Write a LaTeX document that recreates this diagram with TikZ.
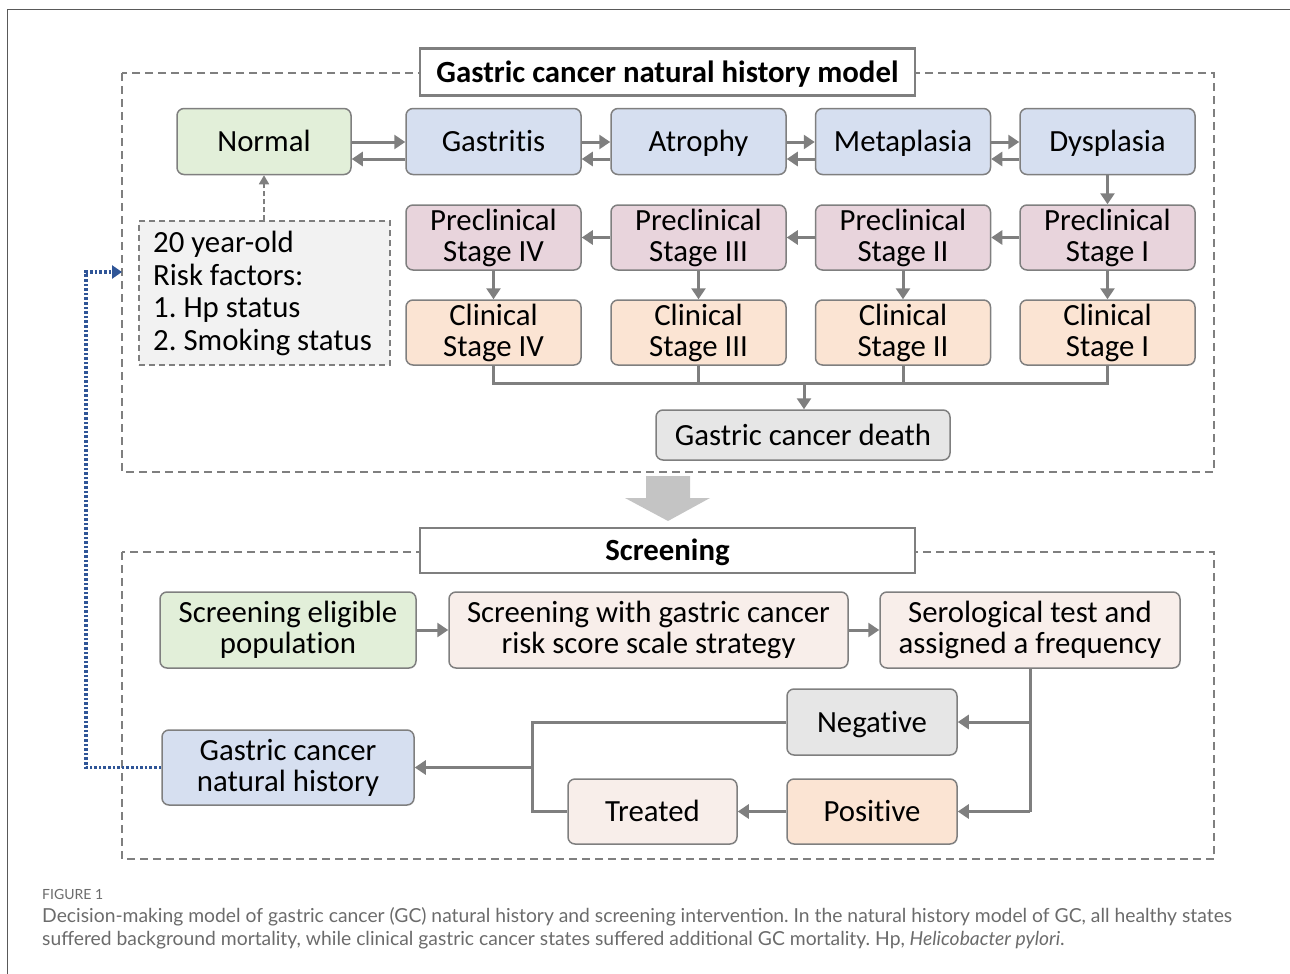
\documentclass[tikz,border=0pt]{standalone}
\usepackage{fontspec}
\setmainfont{Carlito}[Ligatures=NoCommon]
\newfontfamily\capfont{Lato}
\usetikzlibrary{arrows.meta,calc}
\definecolor{bline}{HTML}{7F7F7F}
\definecolor{cgreen}{HTML}{E2EFD9}
\definecolor{cblue}{HTML}{D6DFF0}
\definecolor{cpink}{HTML}{E8D4DC}
\definecolor{cpeach}{HTML}{FBE4D3}
\definecolor{cgray}{HTML}{E6E6E6}
\definecolor{clight}{HTML}{F8EEEA}
\definecolor{crisk}{HTML}{F2F2F2}
\definecolor{cdot}{HTML}{2F5597}
\definecolor{cbig}{HTML}{C4C4C4}
\definecolor{ccap}{HTML}{6B6B6B}
\frenchspacing
\begin{document}
\begin{tikzpicture}[x=1pt,y=-1pt,
  box/.style={draw=bline, line width=1.5pt, rounded corners=7pt, align=center,
    inner sep=0pt, font=\fontsize{30.8}{31}\selectfont},
  sl/.style={text height=23pt, text depth=3pt},
  titlebox/.style={draw=bline, line width=2.4pt, fill=white, inner sep=0pt,
    text height=23pt, text depth=3pt,
    font=\fontsize{30.8}{31}\selectfont\bfseries},
  frame/.style={draw=bline, line width=1.9pt, dash pattern=on 8pt off 5pt},
  arr/.style={draw=bline, line width=3pt, -{Triangle[length=11pt,width=14pt]}},
  ln/.style={draw=bline, line width=3pt},
]
\useasboundingbox (0,0) rectangle (1290,974);
% outer figure frame
\draw[draw=black!65, line width=1pt] (7,974) -- (7,10) -- (1290,10);

% ---------- natural history model ----------
\draw[frame] (122,73) rectangle (1214,472);
\node[titlebox, minimum width=495pt, minimum height=47pt] (t1) at (667.5,72) {Gastric cancer natural history model};

\node[box, sl, fill=cgreen, minimum width=174pt, minimum height=66pt] (normal) at (264,141.5) {Normal};
\node[box, sl, fill=cblue, minimum width=175pt, minimum height=66pt] (gas) at (493.5,141.5) {Gastritis};
\node[box, sl, fill=cblue, minimum width=175pt, minimum height=66pt] (atr) at (698.5,141.5) {Atrophy};
\node[box, sl, fill=cblue, minimum width=175pt, minimum height=66pt] (met) at (903,141.5) {Metaplasia};
\node[box, sl, fill=cblue, minimum width=175pt, minimum height=66pt] (dys) at (1107.5,141.5) {Dysplasia};

\node[box, fill=cpink, minimum width=175pt, minimum height=65pt] (p4) at (493.5,237.5) {Preclinical\\Stage IV};
\node[box, fill=cpink, minimum width=175pt, minimum height=65pt] (p3) at (698.5,237.5) {Preclinical\\Stage III};
\node[box, fill=cpink, minimum width=175pt, minimum height=65pt] (p2) at (903,237.5) {Preclinical\\Stage II};
\node[box, fill=cpink, minimum width=175pt, minimum height=65pt] (p1) at (1107.5,237.5) {Preclinical\\Stage I};

\node[box, fill=cpeach, minimum width=175pt, minimum height=65pt] (c4) at (493.5,332.5) {Clinical\\Stage IV};
\node[box, fill=cpeach, minimum width=175pt, minimum height=65pt] (c3) at (698.5,332.5) {Clinical\\Stage III};
\node[box, fill=cpeach, minimum width=175pt, minimum height=65pt] (c2) at (903,332.5) {Clinical\\Stage II};
\node[box, fill=cpeach, minimum width=175pt, minimum height=65pt] (c1) at (1107.5,332.5) {Clinical\\Stage I};

\node[box, sl, fill=cgray, minimum width=294pt, minimum height=50pt] (death) at (803,435) {Gastric cancer death};

\node[draw=bline, fill=crisk, line width=1.4pt, dash pattern=on 6pt off 4pt,
  minimum width=251pt, minimum height=144pt, inner sep=0pt] (risk) at (264.5,293) {};
\node[anchor=north west, align=left, inner sep=0pt, font=\fontsize{30.8}{32.7}\selectfont] (risktxt) at (153,231)
  {20 year-old\\Risk factors:\\1. Hp status\\2. Smoking status};

% bidirectional arrows
\foreach \a/\b in {normal/gas, gas/atr, atr/met, met/dys}{
  \draw[arr] (\a.east |- 0,142) -- (\b.west |- 0,142);
  \draw[arr] (\b.west |- 0,159) -- (\a.east |- 0,159);
}
\draw[arr] (dys.south) -- (p1.north);
\draw[arr] (p1.west) -- (p2.east);
\draw[arr] (p2.west) -- (p3.east);
\draw[arr] (p3.west) -- (p4.east);
\foreach \p/\c in {p1/c1, p2/c2, p3/c3, p4/c4}{
  \draw[arr] (\p.south) -- (\c.north);
}
\coordinate (bus) at (804,383);
\draw[ln] (c4.south) -- (c4.south |- bus) -- (c1.south |- bus) -- (c1.south);
\draw[ln] (c3.south) -- (c3.south |- bus);
\draw[ln] (c2.south) -- (c2.south |- bus);
\draw[arr] (bus) -- (bus |- death.north);
\draw[draw=bline, line width=1.7pt, dash pattern=on 5pt off 3pt, -{Triangle[length=9pt,width=10pt]}]
  (normal.south |- risk.north) -- (normal.south);

% big arrow
\fill[cbig] (646,476) -- (690,476) -- (690,498) -- (710,498) -- (668,521) -- (625,498) -- (646,498) -- cycle;

% ---------- screening ----------
\draw[frame] (122,552) rectangle (1214,859);
\node[titlebox, minimum width=495pt, minimum height=45pt] (t2) at (667.5,550.5) {Screening};

\node[box, fill=cgreen, minimum width=256pt, minimum height=76pt] (elig) at (288,630) {Screening eligible\\population};
\node[box, fill=clight, minimum width=399pt, minimum height=76pt] (scr) at (648.5,630) {Screening with gastric cancer\\risk score scale strategy};
\node[box, fill=clight, minimum width=300pt, minimum height=76pt] (sero) at (1030,630) {Serological test and\\assigned a frequency};
\node[box, sl, fill=cgray, minimum width=170pt, minimum height=66pt] (neg) at (872,722) {Negative};
\node[box, sl, fill=cpeach, minimum width=170pt, minimum height=65pt] (pos) at (872,811.5) {Positive};
\node[box, sl, fill=clight, minimum width=169pt, minimum height=65pt] (treat) at (652.5,811.5) {Treated};
\node[box, fill=cblue, minimum width=252pt, minimum height=75pt] (gcnh) at (288,767.5) {Gastric cancer\\natural history};

\draw[arr] (elig) -- (scr);
\draw[arr] (scr) -- (sero);
\coordinate (vb) at (1030,811.5);
\draw[ln] (sero.south) -- (vb);
\draw[arr] (1030,722) -- (neg.east);
\draw[arr] (vb) -- (pos.east);
\draw[arr] (pos.west) -- (treat.east);
\coordinate (jn) at (532,767.5);
\draw[ln] (neg.west) -- (jn |- neg.west) -- (jn |- treat.west) -- (treat.west);
\draw[arr] (jn) -- (gcnh.east);
\coordinate (dl) at (122,272);
\draw[draw=cdot, line width=3.2pt, dash pattern=on 2.6pt off 2pt, -{Triangle[length=10pt,width=13pt]}]
  (gcnh.west) -- (86,767.5) -- (86,272) -- (dl);

% ---------- caption ----------
\node[anchor=west, inner sep=0pt, text=ccap, font=\capfont\fontsize{14}{16}\selectfont] (fig) at (42,894) {FIGURE 1};
\node[anchor=north west, inner sep=0pt, align=left, text=ccap, font=\capfont\fontsize{19.3}{23}\selectfont] (cap) at (42,907)
  {Decision-making model of gastric cancer (GC) natural history and screening intervention. In the natural history model of GC, all healthy states\\
   suffered background mortality, while clinical gastric cancer states suffered additional GC mortality. Hp, \textit{Helicobacter pylori}.};
\end{tikzpicture}
\end{document}
